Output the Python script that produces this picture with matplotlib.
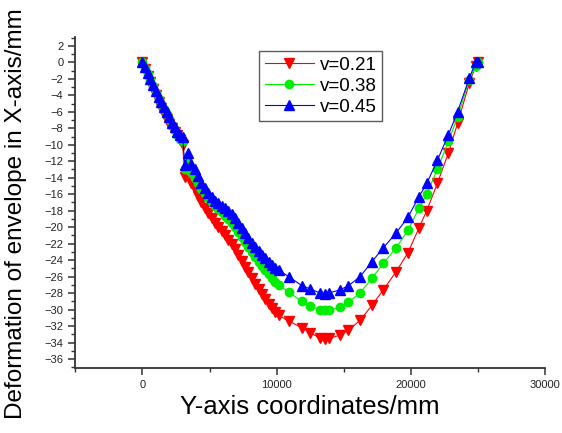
import matplotlib
matplotlib.use("Agg")
import matplotlib.pyplot as plt
from matplotlib.ticker import MultipleLocator

plt.rcParams['font.family'] = ['Liberation Sans', 'DejaVu Sans']

# x positions (mm) shared by the three curves
y_coord = [0, 200, 400, 600, 800, 1000, 1200, 1400, 1600, 1800, 2000, 2200, 2400,
           2600, 2800, 3000, 3150, 3400, 3650, 3900, 4150, 4400, 4650, 4900, 5150,
           5400, 5650, 5900, 6150, 6400, 6650, 6900, 7150, 7400, 7650, 7900, 8150,
           8400, 8650, 8900, 9150, 9400, 9650, 9900, 10150, 10890, 11880, 12500,
           13240, 13600, 13900, 14730, 15350, 16220, 17090, 17950, 18900, 19780,
           20600, 21180, 21970, 22790, 23480, 24350, 24850, 25000]

# deformation (mm)
v021 = [0, -0.8, -1.6, -2.4, -3.2, -4.0, -4.8, -5.6, -6.3, -6.9, -7.5, -8.0, -8.4,
        -8.8, -9.4, -10.0, -13.9, -13.2, -14.6, -15.4, -16.2, -17.0, -17.7, -18.3,
        -18.9, -19.5, -20.0, -20.5, -21.0, -21.5, -22.1, -22.7, -23.4, -24.1, -24.8,
        -25.5, -26.2, -26.9, -27.5, -28.1, -28.7, -29.3, -29.8, -30.3, -30.7, -31.4,
        -32.2, -32.8, -33.5, -33.6, -33.5, -33.1, -32.5, -31.3, -29.5, -27.6, -25.4,
        -23.1, -20.1, -18.0, -14.7, -11.0, -7.4, -2.5, -0.4, 0]
v038 = [0, -0.7, -1.4, -2.2, -2.9, -3.7, -4.4, -5.0, -5.7, -6.3, -6.9, -7.6, -8.2,
        -8.8, -9.3, -9.6, -12.9, -12.2, -13.3, -14.0, -14.7, -15.4, -15.9, -16.5,
        -17.0, -17.4, -17.8, -18.2, -18.6, -19.0, -19.5, -20.0, -20.6, -21.2, -21.8,
        -22.4, -23.0, -23.6, -24.2, -24.7, -25.2, -25.7, -26.2, -26.6, -27.0, -27.9,
        -29.0, -29.6, -30.0, -30.1, -30.1, -29.7, -29.1, -28.0, -26.2, -24.4, -22.5,
        -20.4, -17.7, -16.0, -13.0, -9.6, -6.6, -2.1, -0.4, 0]
v045 = [0, -0.6, -1.3, -2.0, -2.8, -3.5, -4.2, -4.8, -5.4, -6.0, -6.6, -7.3, -7.9,
        -8.4, -8.8, -9.1, -12.4, -11.0, -12.3, -13.0, -13.8, -14.6, -15.2, -15.8,
        -16.3, -16.8, -17.1, -17.4, -17.7, -18.0, -18.4, -18.9, -19.5, -20.1, -20.7,
        -21.3, -21.9, -22.4, -22.9, -23.4, -23.8, -24.2, -24.6, -24.9, -25.2, -26.0,
        -27.1, -27.5, -28.0, -28.1, -28.0, -27.6, -27.1, -26.0, -24.2, -22.5, -20.7,
        -18.8, -16.3, -14.7, -11.9, -8.8, -6.0, -1.9, 0.1, 0]

fig = plt.figure(figsize=(5.62, 4.33), dpi=100)
ax = fig.add_axes([0.134, 0.150, 0.836, 0.765])

ax.plot(y_coord, v021, color='#ff0000', lw=0.8, marker='v', ms=7, mec='#ff0000', label='v=0.21')
ax.plot(y_coord, v038, color='#00ee00', lw=0.8, marker='o', ms=6, mec='#00ee00', label='v=0.38')
ax.plot(y_coord, v045, color='#0000ff', lw=0.8, marker='^', ms=7, mec='#0000ff', label='v=0.45')

ax.set_xlim(-5000, 30000)
ax.set_ylim(-37.1, 3.1)
ax.xaxis.set_major_locator(MultipleLocator(10000))
ax.xaxis.set_minor_locator(MultipleLocator(5000))
ax.yaxis.set_major_locator(MultipleLocator(2))
ax.yaxis.set_minor_locator(MultipleLocator(1))

for s in ['top', 'right']:
    ax.spines[s].set_visible(False)
for s in ['left', 'bottom']:
    ax.spines[s].set_linewidth(1.3)
    ax.spines[s].set_color('#333333')
ax.tick_params(which='major', length=5, width=1.1, color='#333333', labelsize=8, labelcolor='#222222')
ax.tick_params(which='minor', length=3, width=1.0, color='#333333')

ax.set_xlabel('Y-axis coordinates/mm', fontsize=18.5, labelpad=4)
ax.set_ylabel('Deformation of envelope in X-axis/mm', fontsize=17.5)
ax.yaxis.set_label_coords(-0.102, 0.465)

leg = ax.legend(loc='upper left', bbox_to_anchor=(0.372, 0.985), fontsize=13.5,
                frameon=True, fancybox=False, edgecolor='#333333',
                handlelength=2.6, borderpad=0.3, labelspacing=0.2, handletextpad=0.3)
leg.get_frame().set_linewidth(1.0)

fig.savefig('out.png', dpi=100)
